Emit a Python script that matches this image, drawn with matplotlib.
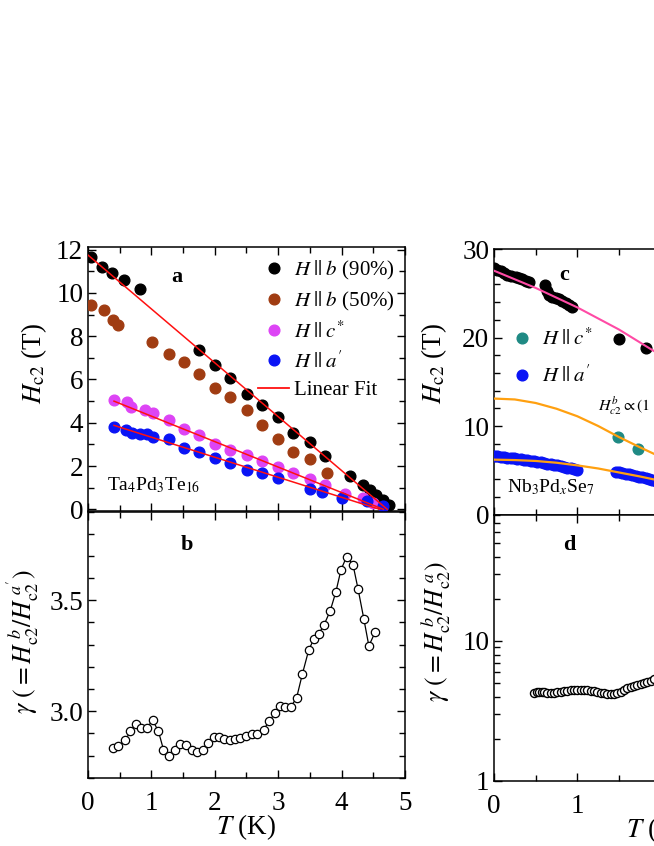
import numpy as np
import matplotlib
matplotlib.use('Agg')
import matplotlib.pyplot as plt
from matplotlib.lines import Line2D
from matplotlib.ticker import MultipleLocator, LogLocator, NullFormatter, FuncFormatter

plt.rcParams['font.family'] = ['Liberation Serif', 'DejaVu Serif']
plt.rcParams['mathtext.fontset'] = 'stix'

# ---------------- Panel a : Ta4Pd3Te16 Hc2(T) ----------------
T_b90 = [0.05, 0.22, 0.38, 0.56, 0.82, 1.75, 2.01, 2.24, 2.51, 2.75, 3.00, 3.24, 3.50, 3.74, 4.13, 4.34, 4.45, 4.55, 4.66, 4.74]
H_b90 = [11.66, 11.19, 10.93, 10.62, 10.20, 7.37, 6.68, 6.07, 5.33, 4.80, 4.29, 3.52, 3.11, 2.47, 1.55, 1.12, 0.89, 0.66, 0.43, 0.20]
T_b50 = [0.05, 0.25, 0.40, 0.47, 1.01, 1.27, 1.51, 1.75, 2.01, 2.24, 2.51, 2.75, 3.00, 3.24, 3.50, 3.77]
H_b50 = [9.43, 9.20, 8.74, 8.52, 7.71, 7.20, 6.79, 6.25, 5.59, 5.18, 4.57, 3.88, 3.26, 2.65, 2.31, 1.69]
T_cs = [0.41, 0.61, 0.68, 0.90, 1.02, 1.27, 1.51, 1.75, 2.01, 2.24, 2.51, 2.75, 3.00, 3.24, 3.50, 3.74, 4.05, 4.34, 4.50]
H_cs = [5.07, 4.95, 4.75, 4.61, 4.46, 4.11, 3.69, 3.42, 3.03, 2.73, 2.50, 2.24, 1.96, 1.69, 1.39, 1.12, 0.70, 0.51, 0.31]
T_ap = [0.41, 0.60, 0.69, 0.82, 0.93, 1.02, 1.27, 1.51, 1.75, 2.01, 2.24, 2.51, 2.75, 3.00, 3.50, 3.69, 4.00, 4.40, 4.66]
H_ap = [3.80, 3.65, 3.52, 3.49, 3.46, 3.34, 3.26, 2.85, 2.65, 2.38, 2.15, 1.84, 1.69, 1.47, 0.93, 0.81, 0.51, 0.38, 0.15]
fitT_b90 = [0.0, 4.72]
fitH_b90 = [11.75, 0.0]
fitT_cs = [0.41, 4.66]
fitH_cs = [5.0, 0.0]
fitT_ap = [0.41, 4.60]
fitH_ap = [3.88, 0.0]

# ---------------- Panel b : anisotropy ----------------
T_gam = [0.40, 0.48, 0.59, 0.67, 0.75, 0.84, 0.93, 1.02, 1.11, 1.19, 1.28, 1.38, 1.45, 1.54, 1.64, 1.72,
         1.81, 1.89, 1.98, 2.07, 2.15, 2.24, 2.32, 2.40, 2.49, 2.58, 2.67, 2.77, 2.86, 2.95, 3.03, 3.11,
         3.20, 3.29, 3.38, 3.48, 3.56, 3.64, 3.72, 3.82, 3.91, 3.99, 4.08, 4.18, 4.26, 4.35, 4.43, 4.53]
gam = [2.834, 2.845, 2.869, 2.910, 2.943, 2.922, 2.925, 2.959, 2.910, 2.827, 2.797, 2.824, 2.852, 2.849,
       2.827, 2.816, 2.827, 2.857, 2.884, 2.884, 2.875, 2.872, 2.875, 2.880, 2.887, 2.895, 2.895, 2.917,
       2.955, 2.992, 3.023, 3.020, 3.020, 3.060, 3.166, 3.274, 3.324, 3.349, 3.387, 3.452, 3.538, 3.637,
       3.697, 3.660, 3.550, 3.417, 3.294, 3.357]

# ---------------- Panel c : Nb3PdxSe7 Hc2(T) ----------------
Tc_b = [0.00, 0.04, 0.08, 0.12, 0.16, 0.20, 0.26, 0.30, 0.34, 0.38, 0.42,
        0.61, 0.63, 0.66, 0.70, 0.74, 0.78, 0.82, 0.86, 0.90, 0.94, 1.50, 1.82]
Hc_b = [27.8, 27.6, 27.5, 27.3, 27.1, 26.9, 26.8, 26.7, 26.6, 26.4, 26.3,
        25.9, 25.2, 24.8, 24.6, 24.5, 24.3, 24.1, 23.9, 23.7, 23.5, 19.8, 18.8]
Tc_cs = [1.49, 1.73]
Hc_cs = [8.8, 7.45]
Tc_ap = [0.00, 0.04, 0.08, 0.12, 0.16, 0.20, 0.24, 0.28, 0.32, 0.36, 0.40, 0.44, 0.48,
         0.52, 0.56, 0.60, 0.64, 0.68, 0.72, 0.76, 0.80, 0.84, 0.88, 0.92, 0.96, 1.00,
         1.46, 1.50, 1.54, 1.58, 1.62, 1.66, 1.70, 1.74, 1.78, 1.82, 1.86, 1.90, 1.94]
Hc_ap = [6.60, 6.56, 6.52, 6.48, 6.44, 6.39, 6.35, 6.30, 6.25, 6.19, 6.14, 6.08, 6.02,
         5.96, 5.89, 5.83, 5.76, 5.69, 5.62, 5.54, 5.46, 5.38, 5.30, 5.22, 5.14, 5.05,
         4.85, 4.78, 4.70, 4.62, 4.54, 4.46, 4.38, 4.29, 4.20, 4.11, 4.02, 3.93, 3.84]
fitTc_b = [0.0, 0.5, 1.0, 1.5, 2.0, 2.5]
fitHc_b = [27.55, 25.6, 23.4, 20.9, 18.0, 14.8]
fitTc_up = [0.0, 0.25, 0.5, 0.75, 1.0, 1.25, 1.5, 1.75, 2.0, 2.25, 2.5]
fitHc_up = [13.1, 13.0, 12.6, 11.95, 11.1, 10.0, 8.75, 7.6, 6.5, 5.5, 4.6]
fitTc_lo = [0.0, 0.25, 0.5, 0.75, 1.0, 1.25, 1.5, 1.75, 2.0, 2.25, 2.5]
fitHc_lo = [6.2, 6.15, 6.05, 5.85, 5.55, 5.2, 4.75, 4.3, 3.8, 3.3, 2.8]

# ---------------- Panel d : anisotropy (log) ----------------
Td = [0.48, 0.51, 0.54, 0.57, 0.60, 0.64, 0.68, 0.72, 0.76, 0.80, 0.84, 0.88, 0.92,
      0.96, 1.00, 1.04, 1.08, 1.12, 1.16, 1.20, 1.24, 1.28, 1.32, 1.36, 1.40, 1.44,
      1.48, 1.52, 1.56, 1.60, 1.64, 1.68, 1.72, 1.76, 1.80, 1.84, 1.88, 1.92]
gd = [4.26, 4.29, 4.31, 4.32, 4.30, 4.22, 4.24, 4.27, 4.30, 4.34, 4.37, 4.40, 4.43,
      4.46, 4.47, 4.47, 4.46, 4.44, 4.40, 4.36, 4.32, 4.28, 4.24, 4.21, 4.19, 4.19,
      4.23, 4.33, 4.45, 4.58, 4.68, 4.78, 4.87, 4.96, 5.05, 5.13, 5.22, 5.32]
d_xticks = [0, 1, 2, 3]
d_xticklabels = ['0', '1', '', '']

# colours
C_BLACK = '#000000'
C_BROWN = '#a03c12'
C_MAG = '#dd44f5'
C_BLUE = '#0a14f5'
C_RED = '#ff1010'
C_TEAL = '#1f8a84'
C_PINK = '#ff4aa5'
C_ORANGE = '#ffa010'

W, H = 654, 846
fig = plt.figure(figsize=(W / 100, H / 100), dpi=100)


def ax_at(x0, y0, x1, y1):
    return fig.add_axes([x0 / W, 1 - y1 / H, (x1 - x0) / W, (y1 - y0) / H])


ax_a = ax_at(88, 247.5, 405, 511.5)
ax_b = ax_at(88, 511.5, 405, 777.7)
ax_c = ax_at(494, 249, 819, 514.5)
ax_d = ax_at(494, 514.5, 819, 781)

TICK_FS = 19.5


def style(ax):
    for s in ax.spines.values():
        s.set_linewidth(1.1)
    ax.tick_params(which='both', direction='in', top=True, right=True, labelsize=TICK_FS, width=1.0)
    ax.tick_params(which='major', length=6)
    ax.tick_params(which='minor', length=4)
    ax.tick_params(axis='x', which='both', pad=9.5)


MS = 7.7
# ----- a -----
ax_a.plot(T_b90, H_b90, 'o', ms=MS, color=C_BLACK, mec=C_BLACK, zorder=3)
ax_a.plot(T_b50, H_b50, 'o', ms=MS, color=C_BROWN, mec=C_BROWN, zorder=3)
ax_a.plot(T_cs, H_cs, 'o', ms=MS, color=C_MAG, mec=C_MAG, zorder=3)
ax_a.plot(T_ap, H_ap, 'o', ms=MS, color=C_BLUE, mec=C_BLUE, zorder=3)
ax_a.plot(fitT_b90, fitH_b90, '-', color=C_RED, lw=1.1, zorder=4)
ax_a.plot(fitT_cs, fitH_cs, '-', color=C_RED, lw=1.1, zorder=4)
ax_a.plot(fitT_ap, fitH_ap, '-', color=C_RED, lw=1.1, zorder=4)
ax_a.set_xlim(0, 5)
ax_a.set_ylim(-0.1, 12.1)
ax_a.xaxis.set_major_locator(MultipleLocator(1))
ax_a.xaxis.set_minor_locator(MultipleLocator(0.5))
ax_a.yaxis.set_major_locator(MultipleLocator(2))
ax_a.yaxis.set_minor_locator(MultipleLocator(1))
style(ax_a)
ax_a.tick_params(labelbottom=False)
ax_a.text(-0.17, 0.56, r'$H_{\rm c2}$ (T)', rotation=90, ha='center', va='center',
          fontsize=19.5, transform=ax_a.transAxes)
ax_a.text(0.28, 0.89, 'a', fontsize=16, fontweight='bold', ha='center', va='center',
          transform=ax_a.transAxes)
ax_a.text(0.06, 0.08, r'Ta$_4$Pd$_3$Te$_{16}$', fontsize=14, ha='left', va='baseline',
          transform=ax_a.transAxes)
handles_a = [Line2D([], [], ls='', marker='o', ms=MS, color=C_BLACK),
             Line2D([], [], ls='', marker='o', ms=MS, color=C_BROWN),
             Line2D([], [], ls='', marker='o', ms=MS, color=C_MAG),
             Line2D([], [], ls='', marker='o', ms=MS, color=C_BLUE),
             Line2D([], [], ls='-', color=C_RED, lw=1.3)]
labels_a = [r'$H\;||\;b$ (90%)', r'$H\;||\;b$ (50%)', r'$H\;||\;c^{*}$', r"$H\;||\;a'$", 'Linear Fit']
ax_a.legend(handles_a, labels_a, loc='upper left', bbox_to_anchor=(0.536, 0.958),
            frameon=False, fontsize=15, handlelength=1.5, handletextpad=0.25,
            labelspacing=0.40, borderpad=0, borderaxespad=0)

# ----- b -----
ax_b.plot(T_gam, gam, '-o', color='black', lw=0.9, ms=6.0, mfc='white', mec='black', mew=0.9)
ax_b.set_xlim(0, 5)
ax_b.set_ylim(2.70, 3.90)
ax_b.xaxis.set_major_locator(MultipleLocator(1))
ax_b.xaxis.set_minor_locator(MultipleLocator(0.5))
ax_b.yaxis.set_major_locator(MultipleLocator(0.5))
ax_b.yaxis.set_minor_locator(MultipleLocator(0.1))
ax_b.yaxis.set_major_formatter(FuncFormatter(lambda v, p: f'{v:.1f}'))
style(ax_b)
ax_b.set_xlabel(r'$T$ (K)', fontsize=19.5, labelpad=-2.5)
ax_b.text(-0.205, 0.51, r"$\gamma$ $(=H_{\rm c2}^{\;b}/H_{\rm c2}^{\;a'})$", rotation=90,
          ha='center', va='center', fontsize=18.5, transform=ax_b.transAxes)
ax_b.text(0.311, 0.874, 'b', fontsize=16, fontweight='bold', ha='center', va='center',
          transform=ax_b.transAxes)

# ----- c -----
ax_c.plot(Tc_b, Hc_b, 'o', ms=MS, color=C_BLACK, mec=C_BLACK, zorder=3)
ax_c.plot(Tc_ap, Hc_ap, 'o', ms=MS, color=C_BLUE, mec=C_BLUE, zorder=3)
ax_c.plot(Tc_cs, Hc_cs, 'o', ms=MS, color=C_TEAL, mec=C_TEAL, zorder=3)
ax_c.plot(fitTc_b, fitHc_b, '-', color=C_PINK, lw=1.5, zorder=4)
ax_c.plot(fitTc_up, fitHc_up, '-', color=C_ORANGE, lw=1.6, zorder=4)
ax_c.plot(fitTc_lo, fitHc_lo, '-', color=C_ORANGE, lw=1.6, zorder=4)
ax_c.set_xlim(0, 3.9)
ax_c.set_ylim(0, 30)
ax_c.xaxis.set_major_locator(MultipleLocator(1))
ax_c.xaxis.set_minor_locator(MultipleLocator(0.5))
ax_c.yaxis.set_major_locator(MultipleLocator(10))
ax_c.yaxis.set_minor_locator(MultipleLocator(2))
style(ax_c)
ax_c.tick_params(labelbottom=False)
ax_c.text(-0.185, 0.57, r'$H_{\rm c2}$ (T)', rotation=90, ha='center', va='center',
          fontsize=19.5, transform=ax_c.transAxes)
ax_c.text(0.215, 0.902, 'c', fontsize=16, fontweight='bold', ha='center', va='center',
          transform=ax_c.transAxes)
ax_c.text(0.04, 0.085, r'Nb$_3$Pd$_x$Se$_7$', fontsize=14, ha='left', va='baseline',
          transform=ax_c.transAxes)
ax_c.text(0.32, 0.39, r'$H_{c2}^{b}\propto(1-t^2)$', fontsize=11.5, ha='left', va='baseline',
          transform=ax_c.transAxes)
handles_c = [Line2D([], [], ls='', marker='o', ms=MS, color=C_TEAL),
             Line2D([], [], ls='', marker='o', ms=MS, color=C_BLUE)]
labels_c = [r'$H\;||\;c^{*}$', r"$H\;||\;a'$"]
ax_c.legend(handles_c, labels_c, loc='upper left', bbox_to_anchor=(0.055, 0.70),
            frameon=False, fontsize=15, handlelength=1.0, handletextpad=0.45,
            labelspacing=0.75, borderpad=0, borderaxespad=0)

# ----- d -----
ax_d.plot(Td, gd, 'o', ls='', ms=5.8, mfc='white', mec='black', mew=1.0)
ax_d.set_yscale('log')
ax_d.set_xlim(0, 3.9)
ax_d.set_ylim(1, 80)
ax_d.set_xticks(d_xticks)
ax_d.set_xticklabels(d_xticklabels)
ax_d.xaxis.set_minor_locator(MultipleLocator(0.5))
ax_d.yaxis.set_major_locator(LogLocator(base=10))
ax_d.yaxis.set_minor_locator(LogLocator(base=10, subs=np.arange(2, 10)))
ax_d.yaxis.set_major_formatter(FuncFormatter(lambda v, p: f'{v:g}'))
ax_d.yaxis.set_minor_formatter(NullFormatter())
style(ax_d)
ax_d.set_xlabel(r'$T$ (K)', fontsize=19.5, labelpad=-2.5)
ax_d.text(-0.18, 0.56, r"$\gamma$ $(=H_{\rm c2}^{\;b}/H_{\rm c2}^{\;a})$", rotation=90,
          ha='center', va='center', fontsize=18.5, transform=ax_d.transAxes)
ax_d.text(0.231, 0.886, 'd', fontsize=16, fontweight='bold', ha='center', va='center',
          transform=ax_d.transAxes)

fig.savefig('out.png', dpi=100)
